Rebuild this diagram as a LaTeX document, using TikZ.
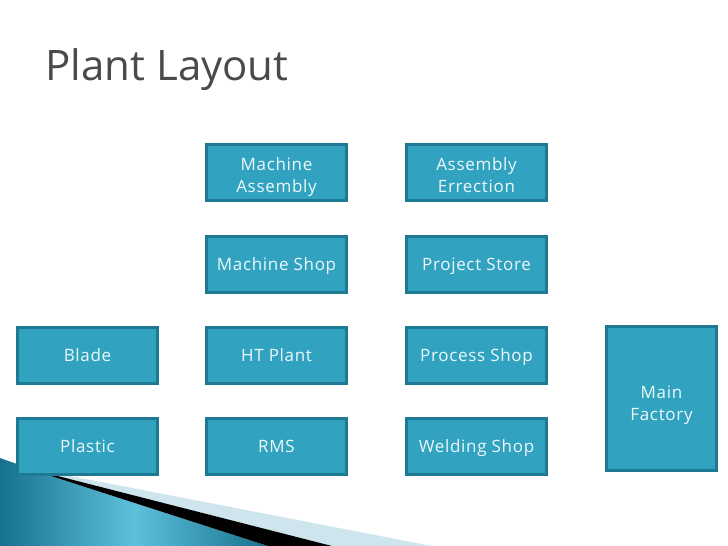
\documentclass[tikz,border=0pt]{standalone}
\usepackage{fontspec}
\setmainfont{Open Sans}
\newfontfamily\boxfont[LetterSpace=4]{Open Sans}
\usepackage{tikz}
\definecolor{boxfill}{HTML}{31A3C1}
\definecolor{boxline}{HTML}{1E7A92}
\definecolor{boxtext}{HTML}{EDF8FA}
\definecolor{titlegray}{HTML}{4A4A4A}
\definecolor{swdark}{HTML}{16728C}
\definecolor{swlight}{HTML}{5FC0DC}
\definecolor{swpale}{HTML}{CFE5EE}
\tikzset{
  unit/.style={draw=boxline,fill=boxfill,line width=3pt,text=boxtext,
    minimum width=140pt,minimum height=56pt,align=center,
    font=\boxfont\fontsize{17}{22}\selectfont,inner sep=0pt},
  oneline/.style={unit,text height=12.5pt,text depth=0pt},
  twoline/.style={unit,text height=39pt,text depth=0pt},
}
\def\tealpart{(0,458) -- (48,475) -- (268,546) -- (0,546) -- cycle}
\def\blackpart{(46,473) -- (332,546) -- (268,546) -- (48,475) -- cycle}
\def\palepart{(60,474) -- (432,546) -- (332,546) -- (46,473) -- cycle}

\begin{document}
\begin{tikzpicture}[x=1pt,y=-1pt]
    \useasboundingbox (0,0) rectangle (728,546);
    \fill[swpale] \palepart;
    \shade[left color=swdark,right color=swdark,middle color=swlight] \tealpart;
    \fill[black] \blackpart;
    \node[anchor=base west,text=titlegray,font=\fontsize{42}{48}\selectfont] (title) at (42,80) {Plant Layout};
    \node[twoline] (machasm) at (276.5,172.5) {Machine\\Assembly};
    \node[twoline] (asmerr) at (476.5,172.5) {Assembly\\Errection};
    \node[oneline] (machshop) at (276.5,264) {Machine Shop};
    \node[oneline] (projstore) at (476.5,264) {Project Store};
    \node[oneline] (blade) at (87.5,355) {Blade};
    \node[oneline] (htplant) at (276.5,355) {HT Plant};
    \node[oneline] (procshop) at (476.5,355) {Process Shop};
    \node[oneline] (plastic) at (87.5,446) {Plastic};
    \node[oneline] (rms) at (276.5,446) {RMS};
    \node[oneline] (weldshop) at (476.5,446) {Welding Shop};
    \node[twoline,minimum width=110pt,minimum height=144pt,text height=43pt] (mainfac) at (661.5,398.5) {Main\\Factory};
\end{tikzpicture}
\end{document}
